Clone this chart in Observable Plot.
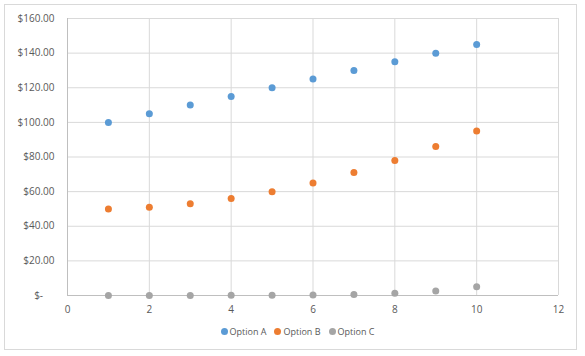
<!DOCTYPE html>
<html>
<head>
<meta charset="utf-8">
<script src="https://cdn.jsdelivr.net/npm/d3@7"></script>
<script src="https://cdn.jsdelivr.net/npm/@observablehq/plot@0.6"></script>
<style>
  html, body { margin: 0; padding: 0; background: #fff; }
  #wrap { position: relative; width: 585px; height: 356px; font-family: "Open Sans", "Noto Sans", sans-serif; }
  #frame { position: absolute; left: 4px; top: 4px; width: 573px; height: 346px; border: 1px solid #d9d9d9; box-sizing: border-box; }
  #chart { position: absolute; left: 0; top: 0; }
  #legend { position: absolute; left: 0; top: 325px; width: 585px; display: flex; justify-content: center; gap: 8px; font-size: 9px; color: #595959; padding-left: 10px; box-sizing: border-box; }
  #legend span.item { display: inline-flex; align-items: center; gap: 2px; }
  #legend span.dot { width: 7px; height: 7px; border-radius: 50%; display: inline-block; }
</style>
</head>
<body>
<div id="wrap">
  <div id="frame"></div>
  <div id="chart"></div>
  <div id="legend"></div>
</div>
<script>
const xValues = [1, 2, 3, 4, 5, 6, 7, 8, 9, 10];
const optionA = [100, 105, 110, 115, 120, 125, 130, 135, 140, 145];
const optionB = [50, 51, 53, 56, 60, 65, 71, 78, 86, 95];
const optionC = [0.01, 0.02, 0.04, 0.08, 0.16, 0.32, 0.64, 1.28, 2.56, 5.12];
const seriesNames = ["Option A", "Option B", "Option C"];
const seriesColors = ["#5b9bd5", "#ed7d31", "#a5a5a5"];
const xTicks = [0, 2, 4, 6, 8, 10, 12];
const yTicks = [0, 20, 40, 60, 80, 100, 120, 140, 160];

const seriesValues = [optionA, optionB, optionC];
const data = [];
seriesValues.forEach((vals, si) => {
  vals.forEach((v, i) => data.push({x: xValues[i], y: v, series: seriesNames[si]}));
});

const fmt = d3.format(",.2f");
const chart = Plot.plot({
  width: 585,
  height: 320,
  marginLeft: 67,
  marginRight: 27,
  marginTop: 18,
  marginBottom: 25,
  style: {fontFamily: "'Open Sans', 'Noto Sans', sans-serif", fontSize: "10px", color: "#595959", background: "transparent"},
  x: {domain: [0, 12], ticks: xTicks, label: null},
  y: {domain: [0, 160], ticks: yTicks, label: null},
  color: {domain: seriesNames, range: seriesColors},
  marks: [
    Plot.gridX(xTicks, {stroke: "#d9d9d9", strokeOpacity: 1}),
    Plot.gridY(yTicks, {stroke: "#d9d9d9", strokeOpacity: 1}),
    Plot.ruleY([0], {stroke: "#bfbfbf"}),
    Plot.ruleX([0], {stroke: "#bfbfbf"}),
    Plot.axisX(xTicks, {tickSize: 0, tickPadding: 10, fill: "#595959", fontSize: 10}),
    Plot.axisY(yTicks, {tickSize: 0, tickPadding: 13, fill: "#595959", fontSize: 10,
      tickFormat: d => d === 0 ? "$-\u2007\u2007" : "$" + fmt(d)}),
    Plot.dot(data, {x: "x", y: "y", fill: "series", r: 3.5, stroke: null})
  ]
});
document.getElementById("chart").appendChild(chart);

const legend = document.getElementById("legend");
seriesNames.forEach((name, i) => {
  const item = document.createElement("span");
  item.className = "item";
  const dot = document.createElement("span");
  dot.className = "dot";
  dot.style.background = seriesColors[i];
  item.appendChild(dot);
  item.appendChild(document.createTextNode(name));
  legend.appendChild(item);
});
</script>
</body>
</html>
